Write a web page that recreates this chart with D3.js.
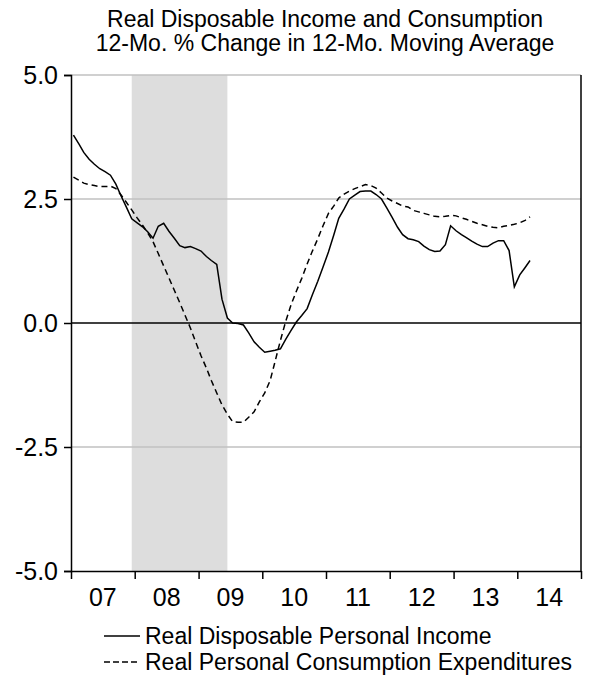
<!DOCTYPE html>
<html>
<head>
<meta charset="utf-8">
<script src="https://cdn.jsdelivr.net/npm/d3@7"></script>
<style>
  body { margin: 0; background: #fff; }
  svg { display: block; font-family: "Liberation Sans", Arial, sans-serif; }
</style>
</head>
<body>
<div id="chart"></div>
<script>
// monthly, Jan 2007 .. Mar 2014
const startMonth = '2007-01';
const income = [
  3.79, 3.61, 3.44, 3.30, 3.20, 3.11, 3.05, 2.98, 2.80, 2.56, 2.33, 2.10,
  2.02, 1.94, 1.84, 1.71, 1.95, 2.01, 1.85, 1.71, 1.56, 1.52, 1.54, 1.50,
  1.45, 1.34, 1.26, 1.18, 0.48, 0.10, 0.00, -0.01, -0.04, -0.20, -0.38, -0.49,
  -0.59, -0.57, -0.55, -0.52, -0.33, -0.15, 0.02, 0.15, 0.29, 0.57, 0.84, 1.13,
  1.43, 1.78, 2.11, 2.30, 2.50, 2.58, 2.65, 2.66, 2.66, 2.59, 2.50, 2.32,
  2.13, 1.93, 1.78, 1.70, 1.68, 1.64, 1.55, 1.48, 1.44, 1.45, 1.58, 1.96,
  1.86, 1.78, 1.72, 1.65, 1.59, 1.54, 1.54, 1.61, 1.66, 1.66, 1.46, 0.73,
  0.97, 1.12, 1.26
];
const consumption = [
  2.94, 2.88, 2.82, 2.79, 2.77, 2.75, 2.75, 2.76, 2.71, 2.58, 2.43, 2.28,
  2.12, 1.97, 1.82, 1.64, 1.40, 1.15, 0.91, 0.66, 0.41, 0.16, -0.10, -0.38,
  -0.66, -0.91, -1.16, -1.41, -1.65, -1.84, -1.99, -2.00, -2.00, -1.90, -1.79, -1.59,
  -1.41, -1.16, -0.78, -0.35, 0.03, 0.37, 0.64, 0.90, 1.19, 1.45, 1.70, 1.96,
  2.21, 2.36, 2.52, 2.60, 2.66, 2.71, 2.75, 2.79, 2.77, 2.72, 2.62, 2.52,
  2.46, 2.41, 2.36, 2.34, 2.27, 2.24, 2.21, 2.18, 2.15, 2.14, 2.15, 2.17,
  2.16, 2.12, 2.09, 2.05, 2.01, 1.98, 1.95, 1.93, 1.92, 1.95, 1.97, 1.99,
  2.02, 2.07, 2.14
];
const yTicks = [-5, -2.5, 0, 2.5, 5];
const yearLabels = ['07', '08', '09', '10', '11', '12', '13', '14'];
const recession = ['2007-12-15', '2009-06-15'];
const titleLines = ['Real Disposable Income and Consumption', '12-Mo. % Change in 12-Mo. Moving Average'];
const seriesNames = ['Real Disposable Personal Income', 'Real Personal Consumption Expenditures'];

const W = 611, H = 678;
const m = { top: 75, right: 30, bottom: 107, left: 71 };

const svg = d3.select('#chart').append('svg').attr('width', W).attr('height', H);

const parseMonth = d3.timeParse('%Y-%m');
const t0 = parseMonth(startMonth);
const dates = income.map((_, i) => d3.timeDay.offset(d3.timeMonth.offset(t0, i), 14));

const x = d3.scaleTime()
  .domain([new Date(2007, 0, 1), new Date(2015, 0, 1)])
  .range([m.left, W - m.right]);
const y = d3.scaleLinear().domain([-5, 5]).range([H - m.bottom, m.top]);

// recession shading
const parseDay = d3.timeParse('%Y-%m-%d');
svg.append('rect')
  .attr('x', x(parseDay(recession[0])))
  .attr('y', m.top)
  .attr('width', x(parseDay(recession[1])) - x(parseDay(recession[0])))
  .attr('height', y(-5) - m.top)
  .attr('fill', '#dddddd');

// gridlines
svg.append('g').selectAll('line').data(yTicks.filter(d => d !== 0 && d !== -5)).join('line')
  .attr('x1', m.left).attr('x2', W - m.right)
  .attr('y1', d => y(d)).attr('y2', d => y(d))
  .attr('stroke', '#c0c0c0').attr('stroke-width', 1.5);

// zero line
svg.append('line')
  .attr('x1', m.left).attr('x2', W - m.right)
  .attr('y1', y(0)).attr('y2', y(0))
  .attr('stroke', '#000').attr('stroke-width', 1.5);

// right border
svg.append('line')
  .attr('x1', W - m.right).attr('x2', W - m.right)
  .attr('y1', m.top).attr('y2', y(-5))
  .attr('stroke', '#000').attr('stroke-width', 1.5);

// y axis (plain hyphen for negatives, like the original)
const fmt = d3.format('.1f');
const yAxis = svg.append('g').attr('transform', `translate(${m.left},0)`)
  .call(d3.axisLeft(y).tickValues(yTicks).tickFormat(d => fmt(d).replace('\u2212', '-')).tickSize(7).tickPadding(6));
yAxis.select('.domain').attr('stroke-width', 1.5);
yAxis.selectAll('.tick line').attr('stroke-width', 1.5);
yAxis.selectAll('text').attr('font-size', 25).attr('fill', '#000');

// x axis: ticks at year boundaries, labels centred in each year
const years = d3.timeYear.range(new Date(2007, 0, 1), new Date(2016, 0, 1));
const xAxis = svg.append('g').attr('transform', `translate(0,${y(-5)})`)
  .call(d3.axisBottom(x).tickValues(years).tickFormat('').tickSize(8).tickSizeOuter(0));
xAxis.select('.domain').attr('stroke-width', 1.5);
xAxis.selectAll('.tick line').attr('stroke-width', 1.5);
svg.append('g').selectAll('text').data(yearLabels).join('text')
  .attr('x', (d, i) => (x(years[i]) + x(years[i + 1])) / 2)
  .attr('y', y(-5) + 35)
  .attr('text-anchor', 'middle')
  .attr('font-size', 25)
  .text(d => d);

// lines
const line = d3.line().x((d, i) => x(dates[i])).y(d => y(d));
svg.append('path').datum(consumption)
  .attr('d', line).attr('fill', 'none').attr('stroke', '#000')
  .attr('stroke-width', 1.5).attr('stroke-dasharray', '6,4');
svg.append('path').datum(income)
  .attr('d', line).attr('fill', 'none').attr('stroke', '#000')
  .attr('stroke-width', 1.5);

// title
svg.append('g').selectAll('text').data(titleLines).join('text')
  .attr('x', 325).attr('y', (d, i) => 27 + i * 24)
  .attr('text-anchor', 'middle').attr('font-size', 23)
  .text(d => d);

// legend
const leg = svg.append('g');
seriesNames.forEach((name, i) => {
  const ly = 636 + i * 26;
  leg.append('line')
    .attr('x1', 104).attr('x2', 140).attr('y1', ly).attr('y2', ly)
    .attr('stroke', '#000').attr('stroke-width', 1.5)
    .attr('stroke-dasharray', i === 1 ? '6,3' : null);
  leg.append('text').attr('x', 145).attr('y', ly + 8)
    .attr('font-size', 23).text(name);
});
</script>
</body>
</html>
